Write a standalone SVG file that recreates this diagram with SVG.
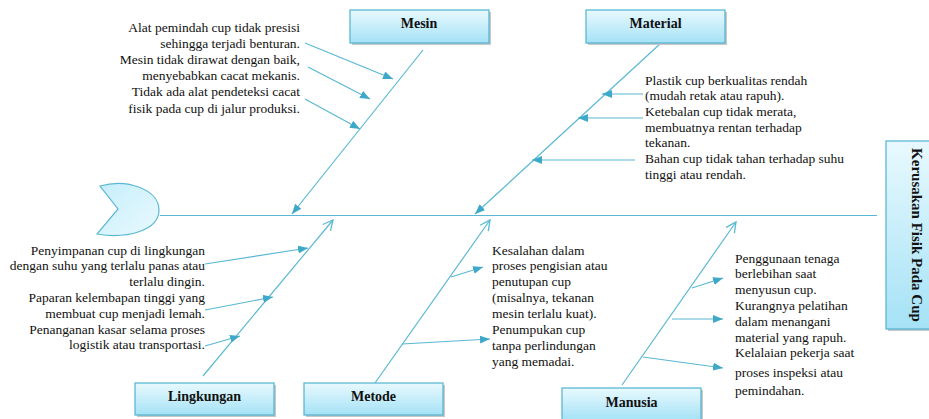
<svg xmlns="http://www.w3.org/2000/svg" width="929" height="419" viewBox="0 0 929 419">
<defs>
<linearGradient id="bg" x1="0" y1="0" x2="0" y2="1">
<stop offset="0" stop-color="#e8f9fe"/>
<stop offset="1" stop-color="#a5e2f6"/>
</linearGradient>
<linearGradient id="hg" x1="0" y1="0" x2="1" y2="1">
<stop offset="0" stop-color="#c6eefb"/>
<stop offset="1" stop-color="#e9f9fe"/>
</linearGradient>
<marker id="fa" viewBox="0 0 10 8" refX="10" refY="4" markerWidth="10" markerHeight="8" markerUnits="userSpaceOnUse" orient="auto">
<path d="M0,0 L10,4 L0,8 z" fill="#3ea8c8"/>
</marker>
<marker id="oa" viewBox="0 0 12 12" refX="11" refY="6" markerWidth="12" markerHeight="12" markerUnits="userSpaceOnUse" orient="auto">
<path d="M1,1 L11,6 L1,11" fill="none" stroke="#5ab8d4" stroke-width="1.3"/>
</marker>
</defs>
<style>
.box{fill:url(#bg);stroke:#4fb3cf;stroke-width:1.2}
.sh{fill:#c8c8c8}
.lbl{font-family:"Liberation Serif","Times New Roman",serif;font-weight:bold;font-size:14px;fill:#111;text-anchor:middle}
.t{font-family:"Liberation Serif","Times New Roman",serif;font-size:13.5px;fill:#111}
.r{text-anchor:end}
.ln{stroke:#5ab8d4;stroke-width:1.2;fill:none}
.sub{marker-end:url(#fa)}
.main{marker-end:url(#fa)}
.up{marker-end:url(#oa)}
</style>
<rect width="929" height="419" fill="#fff"/>

<g id="connectors">
<line class="ln" x1="160" y1="215.5" x2="877" y2="215.5"/>
<line class="ln main" x1="423" y1="50" x2="292" y2="214"/>
<line class="ln sub" x1="305" y1="43" x2="393" y2="79"/>
<line class="ln sub" x1="308" y1="67" x2="370" y2="99"/>
<line class="ln sub" x1="305" y1="99" x2="360" y2="129"/>
<line class="ln main" x1="661" y1="43" x2="475" y2="214"/>
<line class="ln sub" x1="643" y1="94" x2="602" y2="94"/>
<line class="ln sub" x1="643" y1="118" x2="578" y2="118"/>
<line class="ln sub" x1="635" y1="160" x2="532" y2="160"/>
<line class="ln up" x1="203" y1="376" x2="333" y2="220"/>
<line class="ln sub" x1="205" y1="264" x2="308" y2="248"/>
<line class="ln sub" x1="205" y1="310" x2="273" y2="297"/>
<line class="ln sub" x1="205" y1="346" x2="240" y2="336"/>
<line class="ln up" x1="375" y1="383" x2="490" y2="220"/>
<line class="ln sub" x1="451" y1="277" x2="483" y2="267"/>
<line class="ln sub" x1="402" y1="344" x2="490" y2="339"/>
<line class="ln up" x1="622" y1="385" x2="736" y2="222"/>
<line class="ln sub" x1="692" y1="288" x2="723" y2="278"/>
<line class="ln sub" x1="672" y1="319" x2="723" y2="319"/>
<line class="ln sub" x1="643" y1="357" x2="723" y2="368"/>
</g>

<g id="head">
<path d="M100,186 C128,178 159,190 159,210 C159,231 126,239 97,234 L118,209 Z" fill="url(#hg)" stroke="#5ab8d4" stroke-width="1.2"/>
</g>

<g id="mesin">
<rect class="sh" x="352" y="12" width="139" height="33"/>
<rect class="box" x="350" y="10" width="139" height="33"/>
<text class="lbl" x="419" y="28">Mesin</text>
</g>
<g id="material">
<rect class="sh" x="588" y="12" width="139" height="33"/>
<rect class="box" x="586" y="10" width="139" height="33"/>
<text class="lbl" x="655.5" y="28">Material</text>
</g>
<g id="kerusakan">
<rect class="sh" x="888" y="143" width="60" height="188"/>
<rect class="box" x="886" y="141" width="60" height="188"/>
<text class="lbl" style="font-size:15px" x="917" y="240" transform="rotate(90 917 235)">Kerusakan Fisik Pada Cup</text>
</g>
<g id="lingkungan">
<rect class="sh" x="137" y="385" width="139" height="32"/>
<rect class="box" x="135" y="383" width="139" height="32"/>
<text class="lbl" x="204.5" y="401">Lingkungan</text>
</g>
<g id="metode">
<rect class="sh" x="306" y="385" width="139" height="32"/>
<rect class="box" x="304" y="383" width="139" height="32"/>
<text class="lbl" x="373.5" y="401">Metode</text>
</g>
<g id="manusia">
<rect class="sh" x="564" y="390" width="139" height="32"/>
<rect class="box" x="562" y="388" width="139" height="32"/>
<text class="lbl" x="631.5" y="407">Manusia</text>
</g>

<g id="mesin-causes">
<text class="t r" x="300" y="31.5">Alat pemindah cup tidak presisi</text>
<text class="t r" x="300" y="47.7">sehingga terjadi benturan.</text>
<text class="t r" x="300" y="63.9">Mesin tidak dirawat dengan baik,</text>
<text class="t r" x="300" y="80.1">menyebabkan cacat mekanis.</text>
<text class="t r" x="300" y="96.3">Tidak ada alat pendeteksi cacat</text>
<text class="t r" x="300" y="112.5">fisik pada cup di jalur produksi.</text>
</g>
<g id="material-causes">
<text class="t" x="645" y="84.5">Plastik cup berkualitas rendah</text>
<text class="t" x="645" y="100.2">(mudah retak atau rapuh).</text>
<text class="t" x="645" y="115.9">Ketebalan cup tidak merata,</text>
<text class="t" x="645" y="131.6">membuatnya rentan terhadap</text>
<text class="t" x="645" y="147.3">tekanan.</text>
<text class="t" x="645" y="163">Bahan cup tidak tahan terhadap suhu</text>
<text class="t" x="645" y="178.7">tinggi atau rendah.</text>
</g>
<g id="lingkungan-causes">
<text class="t r" x="205" y="254.5">Penyimpanan cup di lingkungan</text>
<text class="t r" x="205" y="270.3">dengan suhu yang terlalu panas atau</text>
<text class="t r" x="205" y="286.1">terlalu dingin.</text>
<text class="t r" x="205" y="301.9">Paparan kelembapan tinggi yang</text>
<text class="t r" x="205" y="317.7">membuat cup menjadi lemah.</text>
<text class="t r" x="205" y="333.5">Penanganan kasar selama proses</text>
<text class="t r" x="205" y="349.3">logistik atau transportasi.</text>
</g>
<g id="metode-causes">
<text class="t" x="492" y="254.5">Kesalahan dalam</text>
<text class="t" x="492" y="270.4">proses pengisian atau</text>
<text class="t" x="492" y="286.3">penutupan cup</text>
<text class="t" x="492" y="302.2">(misalnya, tekanan</text>
<text class="t" x="492" y="318.1">mesin terlalu kuat).</text>
<text class="t" x="492" y="334">Penumpukan cup</text>
<text class="t" x="492" y="349.9">tanpa perlindungan</text>
<text class="t" x="492" y="365.8">yang memadai.</text>
</g>
<g id="manusia-causes">
<text class="t" x="735" y="262.5">Penggunaan tenaga</text>
<text class="t" x="735" y="278.3">berlebihan saat</text>
<text class="t" x="735" y="294.1">menyusun cup.</text>
<text class="t" x="735" y="309.9">Kurangnya pelatihan</text>
<text class="t" x="735" y="325.7">dalam menangani</text>
<text class="t" x="735" y="341.5">material yang rapuh.</text>
<text class="t" x="735" y="357.3">Kelalaian pekerja saat</text>
<text class="t" x="735" y="376.5">proses inspeksi atau</text>
<text class="t" x="735" y="394.5">pemindahan.</text>
</g>
</svg>
